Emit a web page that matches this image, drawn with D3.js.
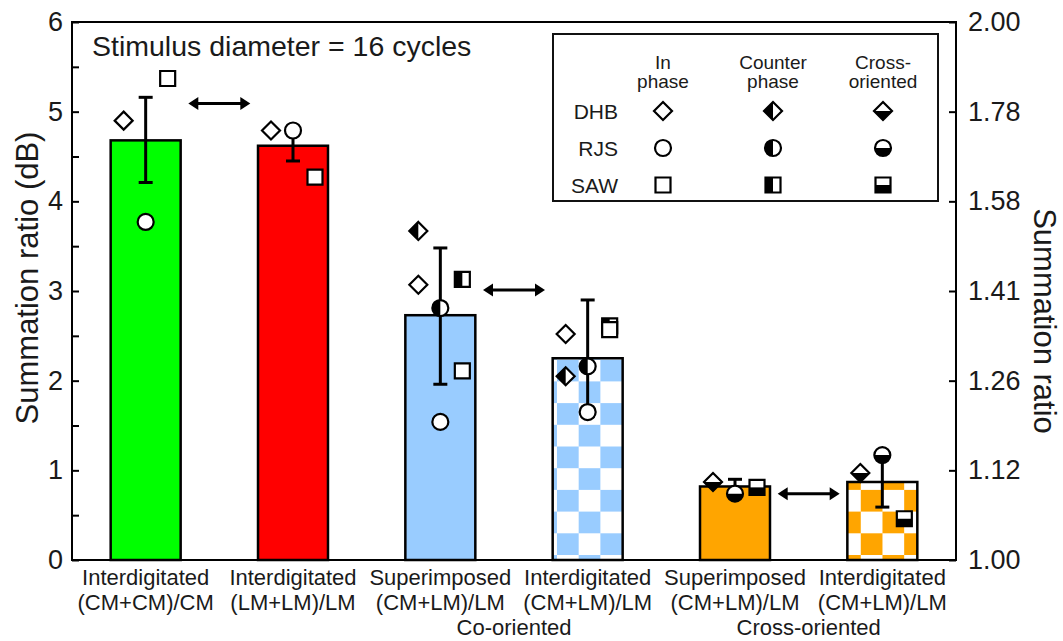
<!DOCTYPE html>
<html><head><meta charset="utf-8">
<script src="https://cdn.jsdelivr.net/npm/d3@7/dist/d3.min.js"></script>
<style>body{margin:0;background:#fff}svg{display:block}text{font-family:"Liberation Sans",Arial,Helvetica,sans-serif;fill:#1a1a1a}</style>
</head><body><svg id="c" width="1063" height="641"></svg>
<script>
// ---------- data ----------
const catLine1 = ["Interdigitated","Interdigitated","Superimposed","Interdigitated","Superimposed","Interdigitated"];
const catLine2 = ["(CM+CM)/CM","(LM+LM)/LM","(CM+LM)/LM","(CM+LM)/LM","(CM+LM)/LM","(CM+LM)/LM"];
const groupLabels = ["Co-oriented","Cross-oriented"];
const groupBars = [[2,3],[4,5]];
const barMeans = [4.68, 4.62, 2.73, 2.25, 0.82, 0.87];
const errLow   = [4.21, 4.45, 1.96, 1.60, 0.74, 0.59];
const errHigh  = [5.16, 4.79, 3.48, 2.90, 0.90, 1.17];
const barFills = ["green","red","blue","blueChecker","orange","orangeChecker"];
// individual observers (dB), null = not measured
const dhbIn      = [4.90, 4.79, 3.07, 2.52, null, null];
const dhbCounter = [null, null, 3.67, 2.05, null, null];
const dhbCross   = [null, null, null, null, 0.87, 0.97];
const rjsIn      = [3.77, 4.79, 1.54, 1.65, null, null];
const rjsCounter = [null, null, 2.81, 2.16, null, null];
const rjsCross   = [null, null, null, null, 0.74, 1.17];
const sawIn      = [5.37, 4.27, 2.11, 2.57, null, null];
const sawCounter = [null, null, 3.13, 2.61, null, null];
const sawCross   = [null, null, null, null, 0.81, 0.46];
// arrows between bar pairs, at height (dB)
const arrowPairs = [[0,1],[2,3],[4,5]];
const arrowLevels = [5.09, 3.01, 0.74];
const leftTicks = [0,1,2,3,4,5,6];
const leftMinorTicks = [0.5,1.5,2.5,3.5,4.5,5.5];
const rightTickLabels = ["1.00","1.12","1.26","1.41","1.58","1.78","2.00"];
const observers = ["DHB","RJS","SAW"];
const legendHeads = [["In","phase"],["Counter","phase"],["Cross-","oriented"]];
const titleText = "Stimulus diameter = 16 cycles";

// ---------- layout ----------
const svg = d3.select("#c");
const L = 72, R = 956, T = 22, B = 560;
const x = d3.scaleBand().domain(d3.range(6)).range([L, R]).paddingInner(0.525).paddingOuter(0.2625);
const y = d3.scaleLinear().domain([0, 6]).range([B, T]);
const colors = {green:"#00ff00", red:"#ff0000", blue:"#99ccff", orange:"#ffa500"};
const cell = 21.7;

const defs = svg.append("defs");
function checker(id, col) {
  const p = defs.append("pattern").attr("id", id).attr("patternUnits","userSpaceOnUse")
    .attr("width", 2*cell).attr("height", 2*cell)
    .attr("x", x(3) + 4.3).attr("y", y(0) - 5);
  p.append("rect").attr("width", 2*cell).attr("height", 2*cell).attr("fill","#fff");
  p.append("rect").attr("x", cell).attr("y", 0).attr("width", cell).attr("height", cell).attr("fill", col);
  p.append("rect").attr("x", 0).attr("y", cell).attr("width", cell).attr("height", cell).attr("fill", col);
}
checker("blueChecker", colors.blue);
checker("orangeChecker", colors.orange);
const fillOf = f => colors[f] ? colors[f] : `url(#${f})`;

// bars
svg.append("g").selectAll("rect").data(barMeans).join("rect")
  .attr("x", (d,i) => x(i)).attr("width", x.bandwidth())
  .attr("y", d => y(d)).attr("height", d => y(0) - y(d))
  .attr("fill", (d,i) => fillOf(barFills[i]))
  .attr("stroke", "#000").attr("stroke-width", 2.5);

// frame
svg.append("rect").attr("x", L).attr("y", T).attr("width", R-L).attr("height", B-T)
  .attr("fill","none").attr("stroke","#000").attr("stroke-width", 2);

// axes
const styleAxis = g => { g.select(".domain").remove(); g.selectAll("line").attr("stroke","#000").attr("stroke-width",2);
  g.selectAll("text").style("font-size","27px").attr("fill","#1a1a1a"); };
svg.append("g").attr("transform",`translate(${L},0)`)
  .call(d3.axisLeft(y).tickValues(leftTicks).tickFormat(d3.format("d")).tickSize(-7).tickPadding(9)).call(styleAxis);
svg.append("g").attr("transform",`translate(${L},0)`)
  .call(d3.axisLeft(y).tickValues(leftMinorTicks).tickFormat("").tickSize(-7)).call(styleAxis);
svg.append("g").attr("transform",`translate(${R},0)`)
  .call(d3.axisRight(y).tickValues(leftTicks).tickFormat((d,i) => rightTickLabels[i]).tickSize(-7).tickPadding(12)).call(styleAxis);

// axis titles
svg.append("text").attr("transform",`translate(38,278) rotate(-90)`)
  .attr("text-anchor","middle").style("font-size","31px").text("Summation ratio (dB)");
svg.append("text").attr("transform",`translate(1034,321) rotate(90)`)
  .attr("text-anchor","middle").style("font-size","31px").text("Summation ratio");

// title
svg.append("text").attr("x", 92).attr("y", 56).style("font-size","28.5px").text(titleText);

// category labels
const cx = i => x(i) + x.bandwidth()/2;
svg.append("g").selectAll("text").data(catLine1).join("text")
  .attr("x",(d,i)=>cx(i)).attr("y",585).attr("text-anchor","middle").style("font-size","22px").text(d=>d);
svg.append("g").selectAll("text").data(catLine2).join("text")
  .attr("x",(d,i)=>cx(i)).attr("y",609.5).attr("text-anchor","middle").style("font-size","22px").text(d=>d);
svg.append("g").selectAll("text").data(groupLabels).join("text")
  .attr("x",(d,i)=>(cx(groupBars[i][0])+cx(groupBars[i][1]))/2).attr("y",635)
  .attr("text-anchor","middle").style("font-size","22px").text(d=>d);

// error bars
const eg = svg.append("g").attr("stroke","#000").attr("stroke-width",3);
barMeans.forEach((m,i) => {
  eg.append("line").attr("x1",cx(i)).attr("x2",cx(i)).attr("y1",y(errLow[i])).attr("y2",y(errHigh[i]));
  [errLow[i], errHigh[i]].forEach(v => eg.append("line").attr("x1",cx(i)-7).attr("x2",cx(i)+7).attr("y1",y(v)).attr("y2",y(v)));
});

// arrows
const ag = svg.append("g");
arrowPairs.forEach((p,k) => {
  const mid = (cx(p[0]) + cx(p[1]))/2, yy = y(arrowLevels[k]), h = 31, ah = 10, aw = 6.5;
  ag.append("line").attr("x1", mid-h+ah-1).attr("x2", mid+h-ah+1).attr("y1", yy).attr("y2", yy).attr("stroke","#000").attr("stroke-width",3);
  ag.append("path").attr("d", `M${mid-h},${yy}L${mid-h+ah},${yy-aw}L${mid-h+ah},${yy+aw}Z`).attr("fill","#000");
  ag.append("path").attr("d", `M${mid+h},${yy}L${mid+h-ah},${yy-aw}L${mid+h-ah},${yy+aw}Z`).attr("fill","#000");
});

// markers
function marker(g, shape, kind, px, py) {
  const s = g.append("g").attr("transform", `translate(${px},${py})`);
  let outline, half;
  if (shape === "diamond") {
    const r = 9;
    outline = `M0,${-r}L${r},0L0,${r}L${-r},0Z`;
    half = kind === "counter" ? `M0,${-r}L0,${r}L${-r},0Z` : `M${-r},0L${r},0L0,${r}Z`;
  } else if (shape === "circle") {
    const r = 8;
    outline = `M${-r},0A${r},${r} 0 1,0 ${r},0A${r},${r} 0 1,0 ${-r},0Z`;
    half = kind === "counter" ? `M0,${-r}A${r},${r} 0 0,0 0,${r}Z` : `M${-r},0A${r},${r} 0 0,0 ${r},0Z`;
  } else {
    const h = 7.5;
    outline = `M${-h},${-h}H${h}V${h}H${-h}Z`;
    half = kind === "counter" ? `M${-h},${-h}H0V${h}H${-h}Z` : `M${-h},0H${h}V${h}H${-h}Z`;
  }
  s.append("path").attr("d", outline).attr("fill","#fff");
  if (kind !== "in") s.append("path").attr("d", half).attr("fill","#000");
  s.append("path").attr("d", outline).attr("fill","none").attr("stroke","#000").attr("stroke-width",2.2);
}
const shapes = ["diamond","circle","square"];
const offsets = [-22, 0, 22];
const sets = [
  [dhbCounter, rjsCounter, sawCounter, "counter"],
  [dhbCross, rjsCross, sawCross, "cross"],
  [dhbIn, rjsIn, sawIn, "in"]
];
const mg = svg.append("g");
sets.forEach(set => {
  for (let o = 0; o < 3; o++) {
    set[o].forEach((v,i) => { if (v !== null) marker(mg, shapes[o], set[3], cx(i)+offsets[o], y(v)); });
  }
});

// legend
const lg = svg.append("g");
lg.append("rect").attr("x",553).attr("y",34).attr("width",385).attr("height",167)
  .attr("fill","#fff").attr("stroke","#111").attr("stroke-width",2);
const colX = [663, 773, 883], rowY = [111, 148, 185], kinds = ["in","counter","cross"];
legendHeads.forEach((h,j) => {
  lg.append("text").attr("x",colX[j]).attr("y",69).attr("text-anchor","middle").style("font-size","19px").text(h[0]);
  lg.append("text").attr("x",colX[j]).attr("y",88).attr("text-anchor","middle").style("font-size","19px").text(h[1]);
});
observers.forEach((ob,r) => {
  lg.append("text").attr("x",618).attr("y",rowY[r]+8).attr("text-anchor","end").style("font-size","21px").text(ob);
  kinds.forEach((k,j) => marker(lg, shapes[r], k, colX[j], rowY[r]));
});
</script></body></html>
